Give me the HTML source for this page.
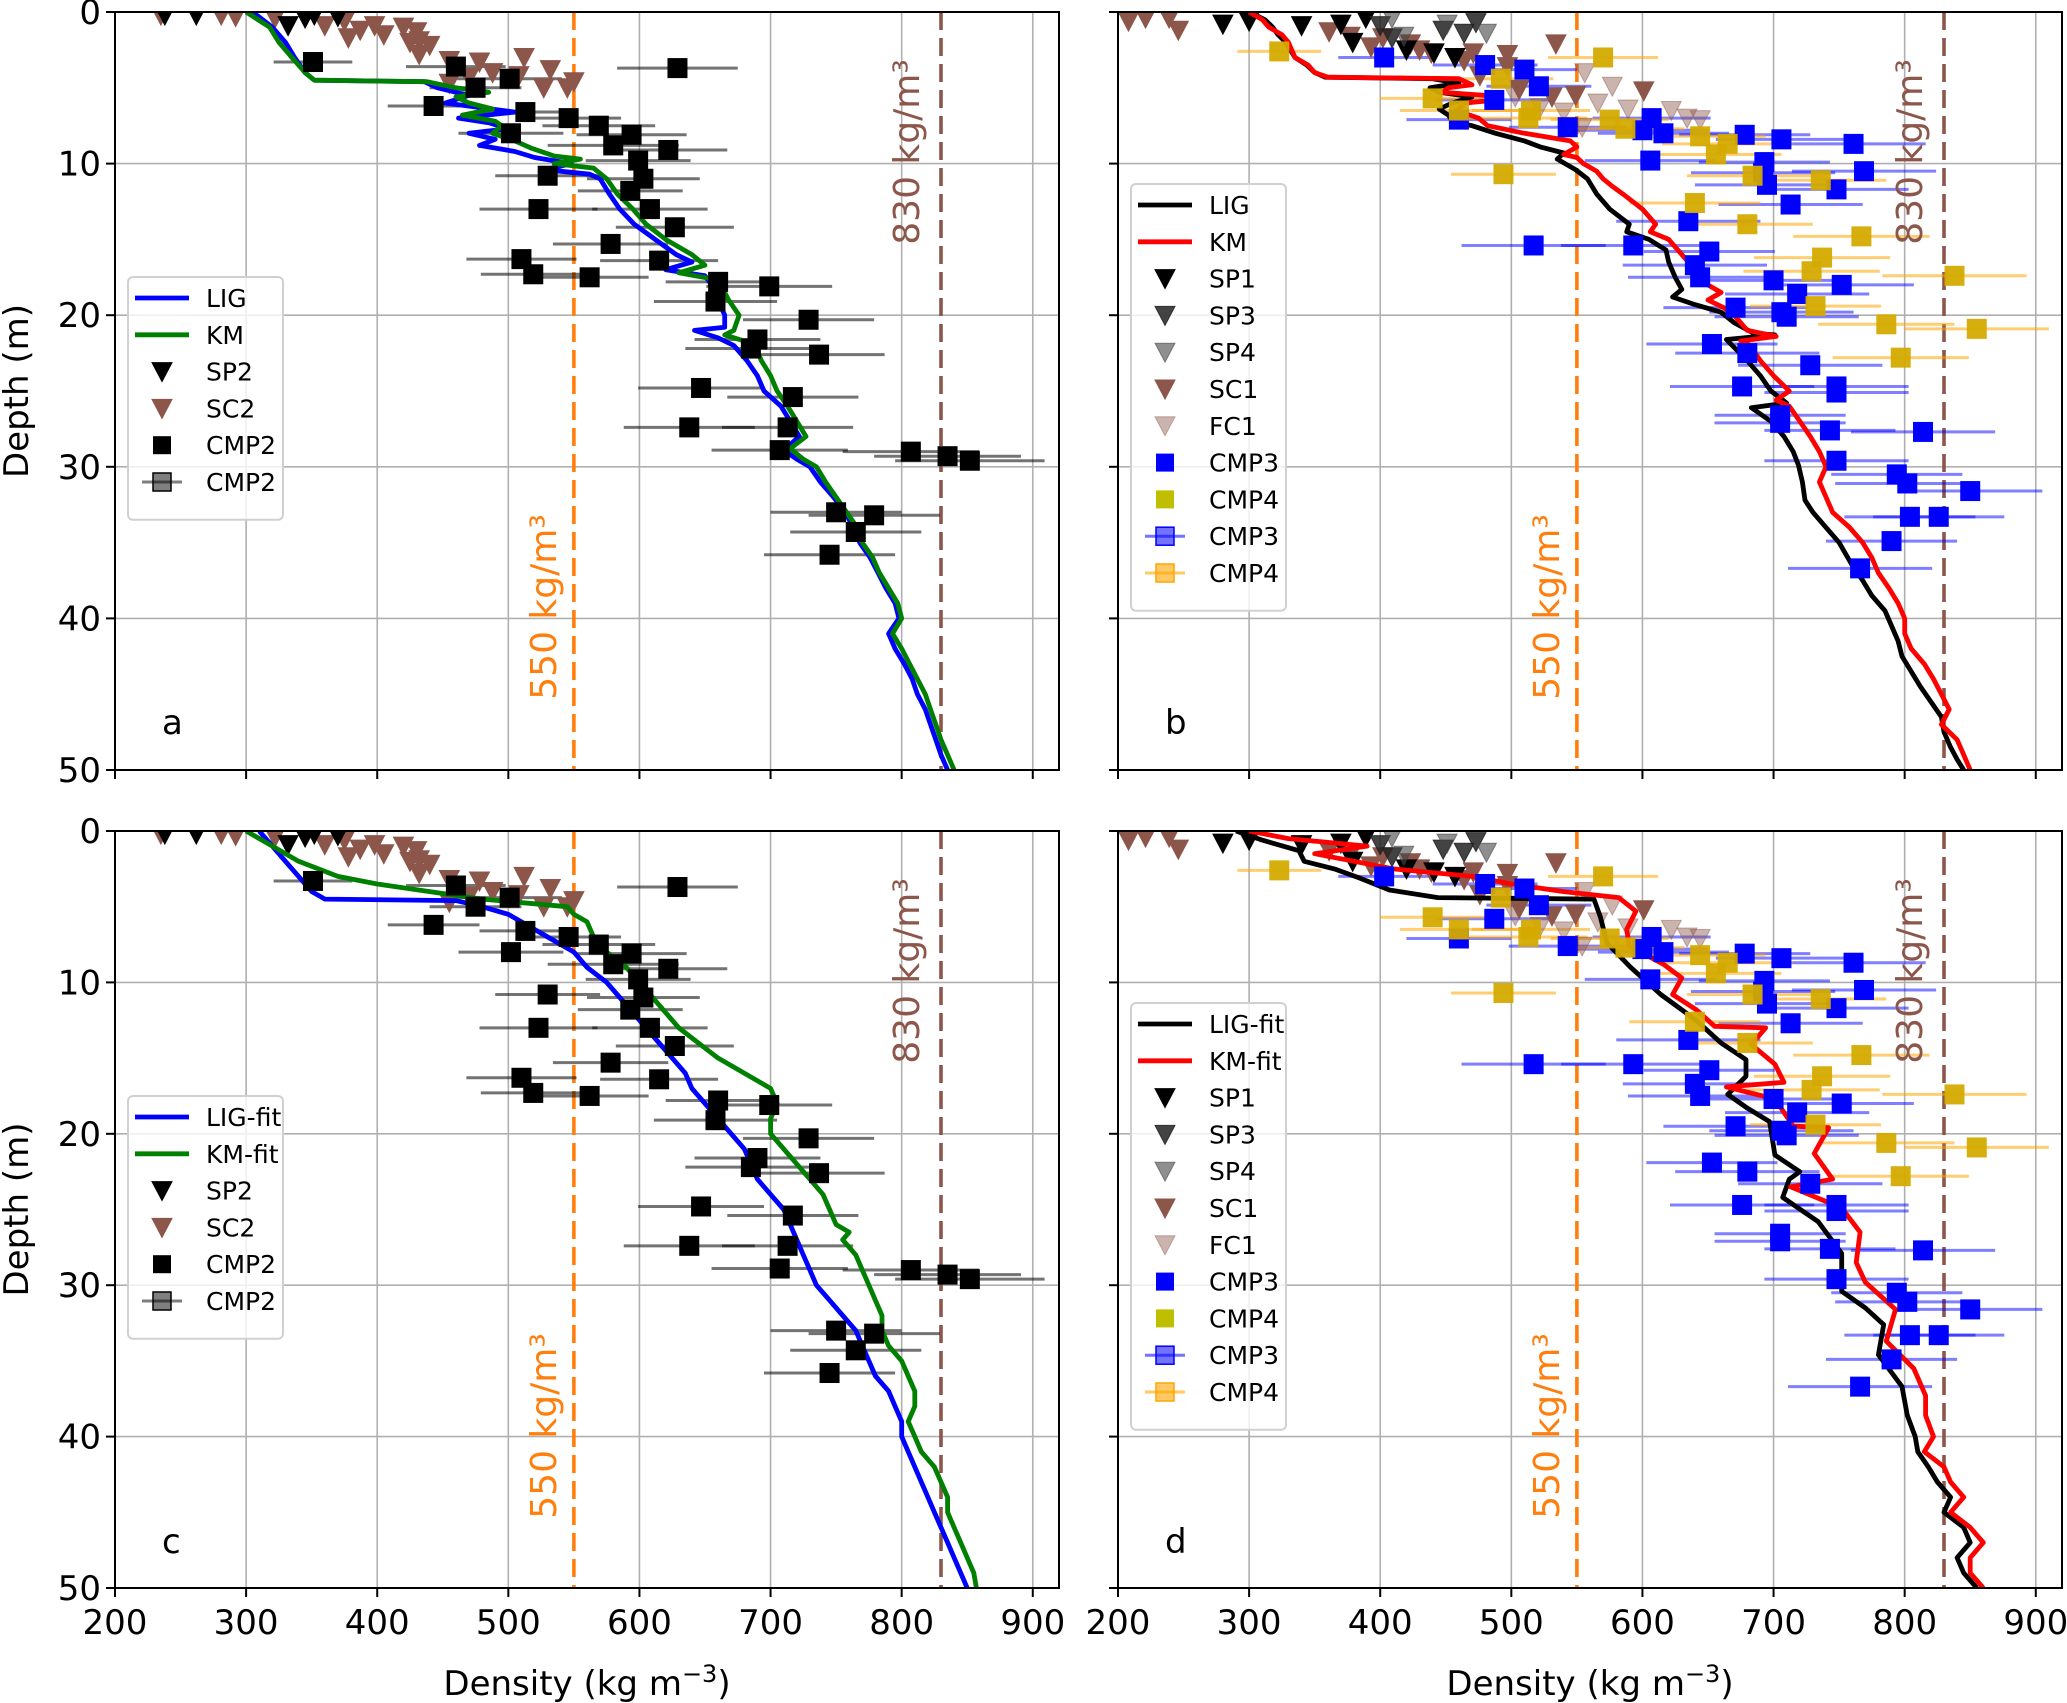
<!DOCTYPE html>
<html><head><meta charset="utf-8">
<style>
html,body{margin:0;padding:0;background:#fff;}
svg{display:block;font-family:"DejaVu Sans","Liberation Sans",sans-serif;}
</style></head>
<body>
<svg id="fig" width="2067" height="1703" viewBox="0 0 2067 1703" xmlns="http://www.w3.org/2000/svg"></svg>
<script>
// ---------- data ----------
const xTicks=[200,300,400,500,600,700,800,900];
const yTicks=[0,10,20,30,40,50];
// panel a profiles [depth, density]
const ligA=[[0,305],[1,320],[2,330],[3,337],[4,345],[4.5,352],[4.6,436],[5,446],[5.5,470],[6,452],[6.3,478],[6.6,505],[7,462],[7.3,485],[7.7,500],[8,470],[8.4,490],[8.8,478],[9.2,505],[9.6,520],[10,548],[10.4,528],[10.7,562],[11,570],[12,577],[13,585],[14,596],[15,612],[16,628],[16.5,640],[17,620],[17.4,650],[18,655],[19,660],[20,665],[20.8,665],[21,642],[21.5,660],[22,672],[23,682],[24,690],[25,695],[26,708],[27,715],[28,722],[28.9,710],[29.5,720],[30,730],[31,738],[32,748],[33,757],[34,763],[35,768],[36,776],[37,782],[38,788],[39,795],[40,798],[41,790],[42,795],[43,802],[44,808],[45,812],[46,818],[47,822],[48,826],[49,830],[50,835]];
const kmA=[[0,300],[1,318],[2,325],[3,335],[4,345],[4.5,352],[4.6,438],[5,460],[5.3,485],[5.6,460],[6,470],[6.4,488],[6.8,465],[7.2,490],[7.5,495],[8,488],[8.5,505],[9,518],[9.5,535],[9.7,555],[10,535],[10.3,565],[11,575],[12,583],[13,595],[14,605],[15,620],[16,640],[16.7,650],[17.2,630],[17.6,655],[18,662],[19,668],[20,676],[21,672],[21.3,665],[21.7,680],[22,688],[23,693],[24,700],[25,705],[26,713],[27,720],[28,727],[28.8,715],[29.5,725],[30,735],[31,742],[32,750],[33,758],[34,766],[35,770],[36,778],[37,783],[38,790],[39,797],[40,800],[41,793],[42,800],[43,806],[44,812],[45,818],[46,822],[47,826],[48,830],[49,835],[50,840]];
// panel b profiles
const ligB=[[0,300],[0.5,312],[1,318],[1.5,322],[2,328],[3,335],[3.5,344],[4,350],[4.3,358],[4.4,440],[4.7,460],[5,438],[5.3,445],[5.6,470],[6,455],[6.4,445],[6.8,452],[7.2,455],[7.5,470],[8,488],[8.5,510],[8.9,522],[9.3,540],[9.7,535],[10.4,549],[11,558],[12,565],[13,575],[14,590],[14.5,588],[15,605],[15.7,618],[16.5,620],[17.5,625],[18.3,630],[18.8,623],[19.3,640],[19.8,660],[20.5,670],[21.2,685],[21.3,701],[21.6,664],[22.3,672],[23,680],[24,690],[25,698],[25.8,710],[26.1,683],[27,698],[28,708],[29,715],[29.9,719],[31,722],[32.2,724],[33,730],[34,740],[35,750],[36.5,760],[37.5,768],[38.5,775],[39.5,785],[40.5,790],[41.5,795],[42.5,798],[43.5,805],[44.5,812],[45.5,820],[46.5,828],[47.5,830],[48.5,835],[49.3,840],[50,845]];
const kmB=[[0,300],[0.5,310],[1,315],[1.5,325],[2,330],[3,335],[3.5,345],[4,350],[4.3,360],[4.4,460],[4.8,470],[5,452],[5.3,447],[5.5,480],[5.8,490],[6,465],[6.5,458],[7,475],[7.5,482],[8,510],[8.5,545],[8.9,550],[9.4,540],[9.6,550],[10,555],[10.5,565],[11,570],[11.5,577],[12,585],[13,600],[14,610],[14.5,606],[15,620],[16,630],[17,640],[18,650],[18.5,660],[19,650],[19.5,662],[20,670],[21,680],[21.4,702],[21.7,675],[22,682],[23,690],[24,700],[25,712],[25.6,702],[26,712],[27,720],[28,728],[29,735],[30,740],[31,735],[32,740],[33,745],[34,758],[35,768],[36,775],[37,780],[38,788],[39,795],[40,800],[41,800],[42,805],[43,815],[44,822],[45,828],[46,834],[47,828],[48,840],[49,845],[50,850]];
// panel c profiles
const ligC=[[0,310],[1,320],[2,330],[3,340],[4,350],[4.5,360],[4.6,460],[5,480],[5.5,500],[6,510],[6.5,520],[7,530],[7.5,540],[8,550],[9,560],[10,575],[11,585],[12,595],[13,605],[14,615],[15,625],[16,635],[17,640],[18,650],[19,660],[20,670],[21,680],[22,685],[23,690],[24,700],[25,710],[26,715],[27,720],[28,725],[29,730],[30,735],[31,745],[32,755],[33,765],[34,770],[35,775],[36,780],[37,790],[38,795],[39,800],[40,800],[41,805],[42,810],[43,815],[44,820],[45,825],[46,830],[47,835],[48,840],[49,845],[50,850]];
const kmC=[[0,300],[1,320],[2,340],[3,370],[3.5,400],[4,440],[4.5,480],[5,545],[5.5,550],[6,560],[7,565],[8,575],[9,590],[10,600],[11,610],[12,620],[13,630],[14,645],[15,660],[16,680],[17,700],[18,705],[19,700],[20,700],[21,710],[22,720],[23,730],[24,740],[25,745],[26,750],[26.5,760],[27,755],[28,765],[29,770],[30,775],[31,780],[32,785],[33,785],[34,790],[35,800],[36,805],[37,810],[38,810],[39,805],[40,810],[41,815],[42,825],[43,830],[44,835],[45,835],[46,840],[47,845],[48,850],[49,855],[50,857]];
// panel d profiles
const ligD=[[0,290],[0.6,310],[1.3,338],[2,342],[2.5,365],[3.1,384],[3.9,407],[4.4,444],[4.5,563],[5.7,568],[7.4,573],[9,591],[10.8,614],[12.5,641],[14,660],[15.1,679],[16.2,679],[17.4,665],[18.3,680],[19.2,697],[21.4,701],[22.5,720],[23,712],[24.2,707],[25.8,734],[27.9,752],[30.4,752],[31.5,770],[32.6,784],[34.6,780],[36.7,798],[38.6,802],[40,808],[41,810],[42,818],[43,825],[44,835],[45,830],[46,845],[47,850],[48,840],[49,845],[50,855]];
const kmD=[[0,300],[0.5,330],[1,390],[1.5,350],[2,380],[2.5,410],[3,470],[3.5,500],[4,540],[4.4,582],[5.3,595],[6.5,588],[7.6,590],[8.8,616],[9.7,630],[10.8,623],[11.8,641],[12.9,655],[13,694],[14.1,683],[15.4,701],[16.6,708],[16.9,664],[17.7,701],[19.5,715],[19.6,742],[21.3,731],[23,745],[23.5,713],[24.9,752],[26.5,766],[28.5,763],[29.8,770],[31.6,793],[33.7,786],[35.5,807],[37.3,816],[38.6,816],[40,822],[41,815],[42,830],[43,835],[44,845],[45,835],[46,850],[47,860],[48,850],[49,850],[50,860]];
// CMP2 [density, depth, err]
const cmp2=[[351,3.3,30],[629,3.7,46],[460,3.6,38],[501,4.4,40],[475,5.0,35],[443,6.2,35],[513,6.6,35],[546,7.0,40],[569,7.5,43],[594,8.1,42],[502,8.0,40],[580,8.8,50],[622,9.1,45],[599,9.8,40],[530,10.8,40],[603,11.0,43],[593,11.8,40],[523,13.0,45],[608,13.0,44],[627,14.2,45],[578,15.3,44],[510,16.3,42],[519,17.3,40],[562,17.5,45],[615,16.4,45],[660,17.8,40],[699,18.1,48],[658,19.1,47],[729,20.3,50],[690,21.6,48],[685,22.2,50],[737,22.6,50],[647,24.8,48],[717,25.4,50],[638,27.4,50],[713,27.4,50],[707,28.9,52],[807,29.0,52],[835,29.3,56],[852,29.6,57],[779,33.2,50],[750,33.0,50],[765,34.3,50],[745,35.8,50]];
const sp2=[[238,0.2],[262,0.2],[332,0.9],[345,0.4],[352,0.2],[370,0.3]];
const sc2=[[235,0.2],[281,0.2],[292,0.3],[322,0.4],[360,0.9],[375,0.6],[378,1.7],[387,1.2],[398,0.9],[405,1.5],[420,1.0],[425,2.0],[432,1.9],[430,1.3],[440,2.2],[432,2.8],[455,3.2],[470,4.3],[478,3.3],[488,4.0],[508,4.2],[512,3.0],[527,5.0],[532,3.8],[545,5.0],[550,4.6],[455,4.7]];
// CMP3 / CMP4 [density, depth, err]
const cmp3=[[403,3.0,35],[480,3.5,40],[510,3.8,40],[521,4.9,40],[487,5.8,45],[460,7.1,40],[543,7.6,45],[607,7.0,45],[600,7.8,50],[616,8.0,50],[678,8.1,50],[706,8.4,50],[761,8.7,55],[606,9.8,50],[693,9.9,50],[769,10.5,55],[692,10.6,55],[695,11.4,55],[748,11.7,55],[713,12.7,55],[635,13.8,55],[517,15.4,55],[593,15.4,55],[651,15.8,50],[640,16.7,55],[644,17.5,55],[700,17.7,55],[752,18.0,55],[718,18.6,55],[671,19.5,55],[706,19.8,55],[710,20.1,55],[653,21.9,50],[680,22.5,55],[728,23.3,55],[676,24.7,55],[748,24.7,55],[748,25.1,55],[705,26.6,50],[705,27.1,50],[743,27.6,50],[814,27.7,55],[748,29.6,55],[794,30.5,50],[802,31.1,55],[850,31.6,55],[804,33.3,50],[826,33.3,50],[790,34.9,50],[766,36.7,55]];
const cmp4=[[323,2.6,32],[570,3.0,42],[492,4.4,40],[440,5.7,40],[460,6.5,45],[515,6.5,45],[513,7.0,45],[575,7.1,45],[587,7.7,45],[644,8.2,50],[665,8.7,50],[656,9.4,50],[494,10.7,40],[684,10.8,50],[736,11.1,50],[640,12.6,50],[680,14.0,50],[767,14.8,52],[737,16.2,52],[729,17.1,52],[838,17.4,55],[732,19.4,50],[786,20.6,52],[855,20.9,55],[797,22.8,52]];
const sp1=[[280,0.8],[300,0.6],[340,0.9],[370,0.8],[389,0.4],[457,3.0],[441,2.7],[420,2.5],[379,2.0]];
const sp3=[[400,0.9],[448,1.2],[464,1.4],[473,0.7],[409,1.7]];
const sp4=[[409,0.4],[481,1.4],[451,0.8],[418,1.6]];
const sc1=[[208,0.6],[221,0.4],[239,0.4],[246,1.2],[361,1.3],[377,1.6],[393,2.3],[402,1.7],[423,2.1],[430,2.5],[439,2.7],[464,3.2],[471,2.7],[497,2.8],[476,4.2],[531,5.6],[534,2.1],[549,5.5],[601,5.2],[497,3.6],[506,5.1]];
const fc1=[[556,4.0],[577,4.9],[589,6.4],[566,6.0],[622,6.5],[634,7.0],[644,7.1],[554,7.6],[540,6.6],[522,6.3],[503,5.6]];

// ---------- layout ----------
const NS="http://www.w3.org/2000/svg";
const fig=document.getElementById('fig');
function mk(tag,attrs,parent){const e=document.createElementNS(NS,tag);for(const k in attrs)e.setAttribute(k,attrs[k]);(parent||fig).appendChild(e);return e;}
const XMIN=200,XMAX=920,YMIN=0,YMAX=50;
const panels={
 a:{x0:115,x1:1059,y0:12,y1:770},
 b:{x0:1118,x1:2062,y0:12,y1:770},
 c:{x0:115,x1:1059,y0:831,y1:1588},
 d:{x0:1118,x1:2062,y0:831,y1:1588}
};
function sx(p,v){return p.x0+(v-XMIN)/(XMAX-XMIN)*(p.x1-p.x0);}
function sy(p,v){return p.y0+(v-YMIN)/(YMAX-YMIN)*(p.y1-p.y0);}

function tri(g,cx,cy,fill,op){const s=10;const e=mk('polygon',{points:`${cx-s},${cy-s*0.9} ${cx+s},${cy-s*0.9} ${cx},${cy+s}`,fill:fill,'fill-opacity':op,stroke:fill,'stroke-opacity':op,'stroke-width':1},g);return e;}

function drawPanel(key,opt){
 const p=panels[key];
 const g=mk('g',{});
 
 
 const clipId='clip'+key;
 const cp=mk('clipPath',{id:clipId},g);mk('rect',{x:p.x0,y:p.y0,width:p.x1-p.x0,height:p.y1-p.y0},cp);
 const grid=mk('g',{stroke:'#b0b0b0','stroke-width':1.6},g);
 
 
 xTicks.forEach(t=>{mk('line',{x1:sx(p,t),x2:sx(p,t),y1:p.y0,y2:p.y1},grid);});
 yTicks.forEach(t=>{mk('line',{x1:p.x0,x2:p.x1,y1:sy(p,t),y2:sy(p,t)},grid);});
 const inner=mk('g',{'clip-path':`url(#${clipId})`},g);
 const l550=mk('line',{x1:sx(p,550),x2:sx(p,550),y1:p.y0,y2:p.y1,stroke:'#ff7f0e','stroke-width':3.6,'stroke-dasharray':'18,8'},inner);
 
 
 const l830=mk('line',{x1:sx(p,830),x2:sx(p,830),y1:p.y0,y2:p.y1,stroke:'#8c564b','stroke-width':3.6,'stroke-dasharray':'18,8'},inner);
 
 
 opt.errs.forEach(es=>{
  es.data.forEach(d=>{
   const e=mk('line',{x1:sx(p,d[0]-d[2]),x2:sx(p,d[0]+d[2]),y1:sy(p,d[1]),y2:sy(p,d[1]),stroke:es.color,'stroke-opacity':es.op,'stroke-width':3},inner);
   
   
  });
 });
 opt.tris.forEach(ts=>{
  ts.data.forEach(d=>{
   const t=tri(inner,sx(p,d[0]),sy(p,d[1]),ts.color,ts.op);
   
   
  });
 });
 opt.lines.forEach(ls=>{
  const pts=ls.data.map(d=>sx(p,d[1]).toFixed(1)+','+sy(p,d[0]).toFixed(1)).join(' ');
  const pl=mk('polyline',{points:pts,fill:'none',stroke:ls.color,'stroke-width':4.8,'stroke-linejoin':'round'},inner);
  
  
 });
 opt.sqs.forEach(ss=>{
  ss.data.forEach(d=>{
   const r=mk('rect',{x:sx(p,d[0])-10,y:sy(p,d[1])-10,width:20,height:20,fill:ss.color,'fill-opacity':ss.op},inner);
   
   
  });
 });
 const sp=mk('rect',{x:p.x0,y:p.y0,width:p.x1-p.x0,height:p.y1-p.y0,fill:'none',stroke:'#000','stroke-width':2},g);
 
 
 xTicks.forEach(t=>{
  mk('line',{x1:sx(p,t),x2:sx(p,t),y1:p.y1,y2:p.y1+9,stroke:'#000','stroke-width':2},g);
  if(opt.xlabels){
   const tx=mk('text',{x:sx(p,t),y:p.y1+46,'font-size':34,'text-anchor':'middle'},g);
   tx.textContent=t;
   
   
  }
 });
 yTicks.forEach(t=>{
  mk('line',{x1:p.x0-9,x2:p.x0,y1:sy(p,t),y2:sy(p,t),stroke:'#000','stroke-width':2},g);
  if(opt.ylabels){
   const ty=mk('text',{x:p.x0-14,y:sy(p,t)+12,'font-size':34,'text-anchor':'end'},g);
   ty.textContent=t;
   
   
  }
 });
 const t550=mk('text',{transform:`translate(${sx(p,550)-18},${p.y0+595}) rotate(-90)`,'font-size':36,fill:'#ff7f0e','text-anchor':'middle'},g);
 t550.textContent='550 kg/m³';
 
 
 const t830=mk('text',{transform:`translate(${sx(p,830)-22},${p.y0+140}) rotate(-90)`,'font-size':36,fill:'#8c564b','text-anchor':'middle'},g);
 t830.textContent='830 kg/m³';
 
 
 const pl=mk('text',{x:p.x0+47,y:p.y0+722,'font-size':34},g);
 pl.textContent=key;
 
 
 const L=opt.legend;
 const lg=mk('g',{},g);
 
 
 const lx=p.x0+L.dx, ly=p.y0+L.dy, h=22+L.items.length*36.8;
 mk('rect',{x:lx,y:ly,width:L.w,height:h,rx:5,fill:'#fff','fill-opacity':0.8,stroke:'#d0d0d0','stroke-width':2},lg);
 L.items.forEach((it,i)=>{
  const cy=ly+21+i*36.8;
  const hx=lx+34;
  const eg=mk('g',{},lg);
  
  
  if(it.t==='line')mk('line',{x1:lx+7,x2:lx+61,y1:cy,y2:cy,stroke:it.c,'stroke-width':4.8},eg);
  else if(it.t==='tri')tri(eg,hx,cy,it.c,it.op);
  else if(it.t==='sq')mk('rect',{x:hx-9,y:cy-9,width:18,height:18,fill:it.c},eg);
  else if(it.t==='err'){mk('line',{x1:hx-20,x2:hx+20,y1:cy,y2:cy,stroke:it.c,'stroke-opacity':it.op,'stroke-width':3},eg);mk('rect',{x:hx-9,y:cy-9,width:18,height:18,fill:it.c,'fill-opacity':it.op,stroke:it.c,'stroke-width':1.5},eg);}
  const tt=mk('text',{x:lx+78,y:cy+9,'font-size':25},eg);
  tt.textContent=it.label;
 });
}

const legA=(n1,n2)=>({dx:13,dy:265,w:155,items:[
 {t:'line',c:'#0000ff',label:n1},{t:'line',c:'#008000',label:n2},
 {t:'tri',c:'#000',op:1,label:'SP2'},{t:'tri',c:'#8c564b',op:1,label:'SC2'},
 {t:'sq',c:'#000',label:'CMP2'},{t:'err',c:'#000',op:0.5,label:'CMP2'}]});
const legB=(n1,n2)=>({dx:13,dy:172,w:155,items:[
 {t:'line',c:'#000',label:n1},{t:'line',c:'#ff0000',label:n2},
 {t:'tri',c:'#000',op:1,label:'SP1'},{t:'tri',c:'#222',op:0.85,label:'SP3'},
 {t:'tri',c:'#444',op:0.6,label:'SP4'},{t:'tri',c:'#8c564b',op:1,label:'SC1'},
 {t:'tri',c:'#8c564b',op:0.45,label:'FC1'},{t:'sq',c:'#0000ff',label:'CMP3'},
 {t:'sq',c:'#bfbf00',label:'CMP4'},{t:'err',c:'#0000ff',op:0.55,label:'CMP3'},
 {t:'err',c:'#ffa500',op:0.6,label:'CMP4'}]});

function optA(l1,l2,n1,n2){return {xlabels:false,ylabels:true,
 errs:[{data:cmp2,color:'#000',op:0.55}],
 tris:[{name:'sc2',data:sc2,color:'#8c564b',op:1},{name:'sp2',data:sp2,color:'#000',op:1}],
 lines:[{name:n1,data:l1,color:'#0000ff'},{name:n2,data:l2,color:'#008000'}],
 sqs:[{name:'cmp2',data:cmp2,color:'#000',op:1}],legend:legA(n1,n2)};}
function optB(l1,l2,n1,n2){return {xlabels:false,ylabels:false,
 errs:[{data:cmp3,color:'#0000ff',op:0.5},{data:cmp4,color:'#ffa500',op:0.55}],
 tris:[{name:'sc1',data:sc1,color:'#8c564b',op:1},{name:'fc1',data:fc1,color:'#8c564b',op:0.45},{name:'sp1',data:sp1,color:'#000',op:1},{name:'sp3',data:sp3,color:'#222',op:0.85},{name:'sp4',data:sp4,color:'#444',op:0.6}],
 lines:[{name:n1,data:l1,color:'#000'},{name:n2,data:l2,color:'#ff0000'}],
 sqs:[{name:'cmp3',data:cmp3,color:'#0000ff',op:1},{name:'cmp4',data:cmp4,color:'#d4aa00',op:0.95}],legend:legB(n1,n2)};}

drawPanel('a',optA(ligA,kmA,'LIG','KM'));
drawPanel('b',optB(ligB,kmB,'LIG','KM'));
const oc=optA(ligC,kmC,'LIG-fit','KM-fit');oc.xlabels=true;drawPanel('c',oc);
const od=optB(ligD,kmD,'LIG-fit','KM-fit');od.xlabels=true;drawPanel('d',od);

[[panels.a,'y-axis-title-top'],[panels.c,'y-axis-title-bottom']].forEach(([p,n])=>{
 const t=mk('text',{transform:`translate(28,${(p.y0+p.y1)/2}) rotate(-90)`,'font-size':34,'text-anchor':'middle'});
 t.textContent='Depth (m)';
 
 
});
[[panels.c,'x-axis-title-left'],[panels.d,'x-axis-title-right']].forEach(([p,n])=>{
 const t=mk('text',{x:(p.x0+p.x1)/2,y:1695,'font-size':34,'text-anchor':'middle'});
 t.innerHTML='Density (kg m<tspan dy="-13" font-size="24">−3</tspan><tspan dy="13">)</tspan>';
 
 
});
</script>
</body></html>
